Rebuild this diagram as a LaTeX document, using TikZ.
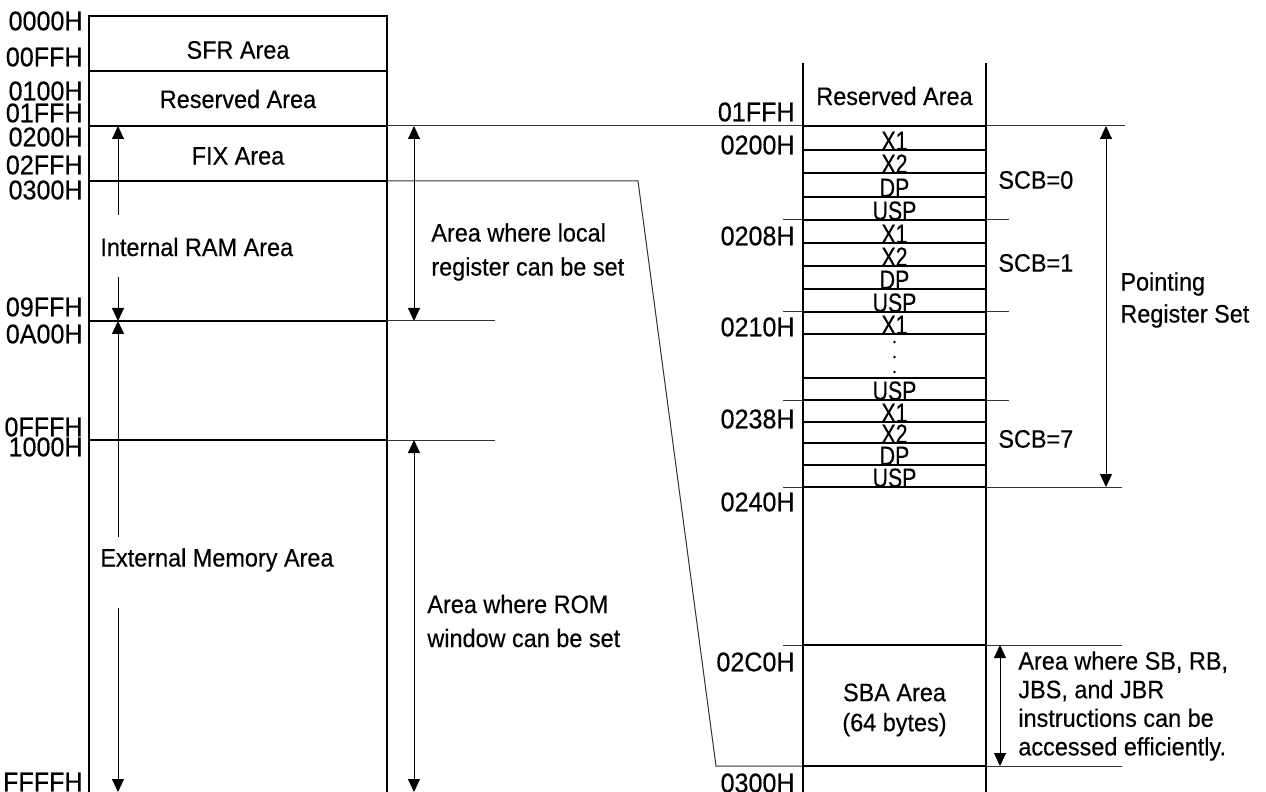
\documentclass[tikz,border=0pt]{standalone}
\usepackage{fontspec}
\setmainfont{Liberation Sans}[FakeStretch=0.93,FakeBold=0.35]
\newfontfamily\narrowfont{Liberation Sans}[FakeStretch=0.8,FakeBold=0.35]
\usetikzlibrary{arrows.meta}

\begin{document}
\begin{tikzpicture}[x=0.5pt, y=-0.5pt, every node/.style={inner sep=0pt, font=\fontsize{12.6}{17}\selectfont}, frame/.style={line width=0.65pt}, ext/.style={line width=0.5pt,draw=black!80}, addr/.style={anchor=east,font=\fontsize{13.5}{15}\selectfont}, reg/.style={anchor=base,font=\narrowfont\fontsize{13.3}{15}\selectfont}, note/.style={anchor=west,align=left}, arr/.style={line width=0.5pt,-{Triangle[length=6.5pt,width=6pt]}}, darr/.style={line width=0.5pt,{Triangle[length=6.5pt,width=6pt]}-{Triangle[length=6.5pt,width=6pt]}}]
\useasboundingbox (0,0) rectangle (1266,792);
% left memory map
\draw[frame] (89,792) -- (89,16) -- (387,16) -- (387,792);
\foreach \y in {71,126,181,321,440} \draw[frame] (89,\y) -- (387,\y);
\draw[ext] (387,126) -- (803,126); \draw[ext] (986,126) -- (1125,126);
\draw[ext] (387,181) -- (638,181) -- (716,766) -- (803,766);
\draw[ext] (387,321) -- (495,321); \draw[ext] (387,440) -- (495,440);
\node[addr] (a0000) at (83,21) {0000H};
\node[addr] (a00ff) at (83,57) {00FFH};
\node[addr] (a0100) at (83,91) {0100H};
\node[addr] (a01ff) at (83,113) {01FFH};
\node[addr] (a0200) at (83,137) {0200H};
\node[addr] (a02ff) at (83,165) {02FFH};
\node[addr] (a0300) at (83,190) {0300H};
\node[addr] (a09ff) at (83,307) {09FFH};
\node[addr] (a0a00) at (83,334) {0A00H};
\node[addr] (a0fff) at (83,427) {0FFFH};
\node[addr] (a1000) at (83,447) {1000H};
\node[addr] (affff) at (83,782) {FFFFH};
\node (sfr) at (238,50) {SFR Area};
\node (rsv) at (238,99) {Reserved Area};
\node (fix) at (238,156) {FIX Area};
\node[anchor=west] (iram) at (100,247) {Internal RAM Area};
\node[anchor=west] (xmem) at (100,560) {External Memory Area};
\node[note] (local) at (431,252) {Area where local\\register can be set};
\node[note] (rom) at (427,621) {Area where ROM\\window can be set};
% arrows of the left map
\coordinate (iramtop) at (118,126); \coordinate (iramup) at (118,215);
\coordinate (iramdn) at (118,277); \coordinate (irambot) at (118,321);
\coordinate (xmemup) at (118,537); \coordinate (xmemdn) at (118,608);
\coordinate (xmembot) at (118,792);
\coordinate (localtop) at (414,126); \coordinate (localbot) at (414,321);
\coordinate (romtop) at (414,440); \coordinate (rombot) at (414,792);
\draw[arr] (iramup) -- (iramtop);
\draw[arr] (iramdn) -- (irambot);
\draw[arr] (xmemup) -- (irambot);
\draw[arr] (xmemdn) -- (xmembot);
\draw[darr] (localtop) -- (localbot);
\draw[darr] (romtop) -- (rombot);
% right detail of 0200H-02FFH
\draw[frame] (803,63) -- (803,792); \draw[frame] (986,63) -- (986,792);
\foreach \y in {126,150,173,197,220,243,266,289,312,334,378,400,422,443,465,487,645,766} \draw[frame] (803,\y) -- (986,\y);
\foreach \y in {220,312,400} {\draw[ext] (783,\y) -- (803,\y); \draw[ext] (986,\y) -- (1009,\y);}
\foreach \y in {487,645} {\draw[ext] (783,\y) -- (803,\y); \draw[ext] (986,\y) -- (1122,\y);}
\draw[ext] (986,766) -- (1122,766);
\foreach \t/\y in {X1/150,X2/173,DP/197,USP/220,X1/243,X2/266,DP/289,USP/312,X1/334,USP/400,X1/422,X2/443,DP/465,USP/487} \node[reg] (r\y) at (894.5,\y) {\t};
\foreach \y in {342,357,372} \fill (894.5,\y) circle (1.3);
\node (rsv2) at (894.5,96) {Reserved Area};
\node[addr] (b01ff) at (795,112) {01FFH};
\node[addr] (b0200) at (795,145) {0200H};
\node[addr] (b0208) at (795,236) {0208H};
\node[addr] (b0210) at (795,327) {0210H};
\node[addr] (b0238) at (795,419) {0238H};
\node[addr] (b0240) at (795,502) {0240H};
\node[addr] (b02c0) at (795,662) {02C0H};
\node[addr] (b0300) at (795,783) {0300H};
\node[anchor=west] (scb0) at (998,180) {SCB=0};
\node[anchor=west] (scb1) at (998,263) {SCB=1};
\node[anchor=west] (scb7) at (998,439) {SCB=7};
\node[note,font=\fontsize{12.6}{16}\selectfont] (prs) at (1120,300) {Pointing\\Register Set};
\node[align=center,font=\fontsize{12.6}{15}\selectfont] (sba) at (894.5,710) {SBA Area\\(64 bytes)};
\node[note,font=\fontsize{12.6}{14.3}\selectfont] (sbnote) at (1018,706) {Area where SB, RB,\\JBS, and JBR\\instructions can be\\accessed efficiently.};
\coordinate (prstop) at (1106,126); \coordinate (prsbot) at (1106,487);
\coordinate (sbtop) at (1000,645); \coordinate (sbbot) at (1000,766);
\draw[darr] (prstop) -- (prsbot);
\draw[darr] (sbtop) -- (sbbot);
\end{tikzpicture}
\end{document}
